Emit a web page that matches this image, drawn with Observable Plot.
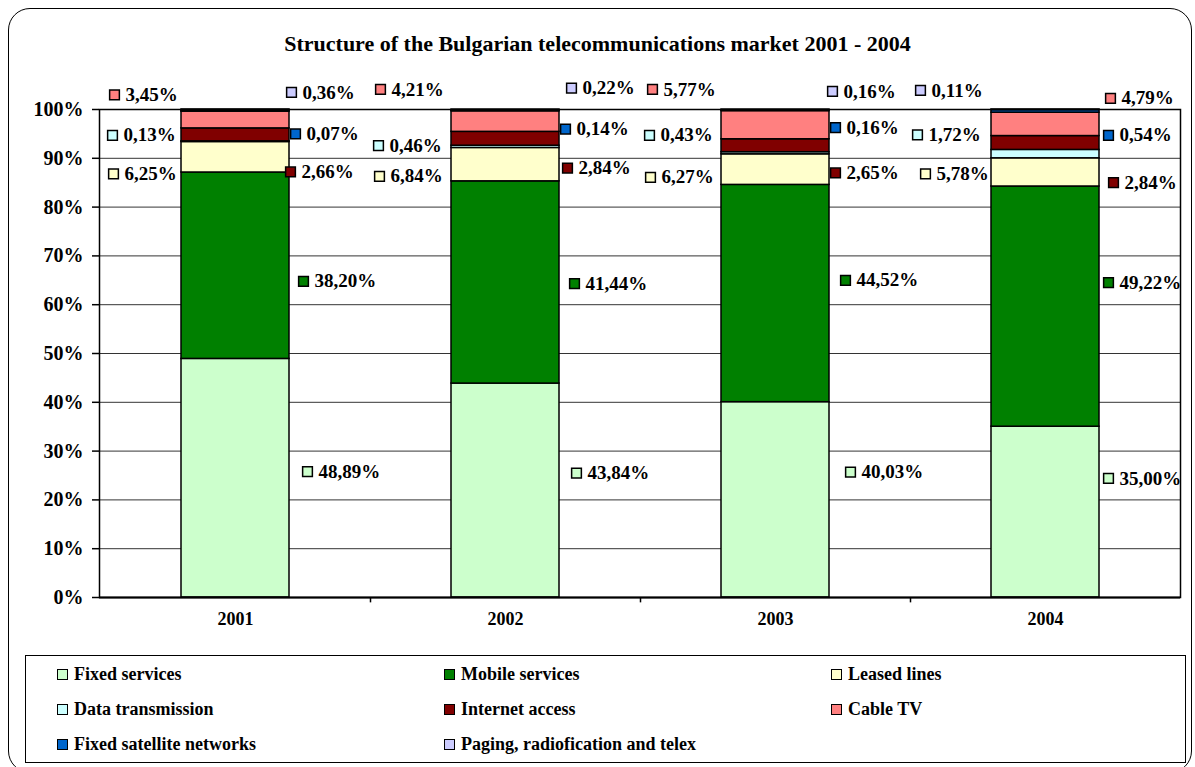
<!DOCTYPE html>
<html>
<head>
<meta charset="utf-8">
<script src="https://cdn.jsdelivr.net/npm/d3@7"></script>
<script src="https://cdn.jsdelivr.net/npm/@observablehq/plot@0.6"></script>
<style>
  html, body { margin: 0; padding: 0; background: #fff; overflow: hidden; }
  #wrap { position: relative; width: 1195px; height: 767px; overflow: hidden; font-family: "Liberation Serif", "Times New Roman", serif; }
  #border { position: absolute; left: 8px; top: 8px; width: 1184px; height: 765px; box-sizing: border-box; border: 1.5px solid #000; border-radius: 22px; }
  #title { position: absolute; left: 0; top: 32px; width: 1195px; text-align: center; font-size: 22px; line-height: 24px; font-weight: bold; z-index: 2; }
  #chart { position: absolute; left: 0; top: 0; }
  #legend { position: absolute; left: 25px; top: 655px; width: 1161px; height: 108px; box-sizing: border-box; border: 1.5px solid #000; }
  .li { position: absolute; height: 20px; display: flex; align-items: center; font-size: 18px; font-weight: bold; white-space: nowrap; }
  .sw { width: 11px; height: 11px; box-sizing: border-box; border: 1.5px solid #000; margin-right: 6px; }
</style>
</head>
<body>
<div id="wrap">
  <div id="border"></div>
  <div id="chart"></div>
  <div id="title">Structure of the Bulgarian telecommunications market 2001 - 2004</div>
  <div id="legend"></div>
</div>
<script>
// ---- data ----
const years = ["2001", "2002", "2003", "2004"];
const series = ["Fixed services", "Mobile services", "Leased lines", "Data transmission",
  "Internet access", "Cable TV", "Fixed satellite networks", "Paging, radiofication and telex"];
const colors = ["#CCFFCC", "#008000", "#FFFFCC", "#CCFFFF", "#800000", "#FF8080", "#0066CC", "#CCCCFF"];

const fixedServices = [48.89, 43.84, 40.03, 35.00];
const mobileServices = [38.20, 41.44, 44.52, 49.22];
const leasedLines = [6.25, 6.84, 6.27, 5.78];
const dataTransmission = [0.13, 0.46, 0.43, 1.72];
const internetAccess = [2.66, 2.84, 2.65, 2.84];
const cableTV = [3.45, 4.21, 5.77, 4.79];
const fixedSatellite = [0.07, 0.14, 0.16, 0.54];
const paging = [0.36, 0.22, 0.16, 0.11];

const yTicks = [0, 10, 20, 30, 40, 50, 60, 70, 80, 90, 100];

// ---- label layout (manual placement as in the original; level in % units, dx in px from bar centre) ----
const labelLevel = [
  [25.8, 25.5, 25.7, 24.4],
  [64.8, 64.3, 65.0, 64.5],
  [86.8, 86.3, 86.1, 86.8],
  [94.7, 92.6, 94.7, 94.8],
  [87.2, 88.0, 87.0, 85.0],
  [103.0, 104.1, 104.1, 102.3],
  [95.0, 96.0, 96.3, 94.7],
  [103.5, 104.4, 103.7, 103.9]
];
const labelDx = [
  [72, 71, 75, 63],
  [68, 69, 70, 63],
  [-122, -126, -125, -120],
  [-123, -127, -126, -128],
  [55, 62, 60, 68],
  [-121, -125, -123, 65],
  [60, 60, 60, 63],
  [56, 66, 57, -125]
];

// ---- build ----
const values = [fixedServices, mobileServices, leasedLines, dataTransmission, internetAccess, cableTV, fixedSatellite, paging];
const rows = years.flatMap((yr, i) => series.map((s, k) => ({year: yr, series: s, value: values[k][i]})));
const labels = years.flatMap((yr, i) => series.map((s, k) => ({
  year: yr, series: s, value: values[k][i], level: labelLevel[k][i], dx: labelDx[k][i]
})));
const fmt = v => v.toFixed(2).replace(".", ",") + "%";

const labelMarks = labels.flatMap(d => [
  Plot.dot([d], {x: "year", y: "level", dx: d.dx, symbol: "square", r: 5.5, fill: "series", stroke: "#000", strokeWidth: 1.5}),
  Plot.text([d], {x: "year", y: "level", dx: d.dx + 11, text: e => fmt(e.value), textAnchor: "start",
    fontSize: 19, fontWeight: "bold", fill: "#000"})
]);

const chart = Plot.plot({
  width: 1195,
  height: 640,
  marginTop: 109,
  marginBottom: 43,
  marginLeft: 99,
  marginRight: 15,
  x: {domain: years, paddingInner: 0.6, paddingOuter: 0.3, label: null},
  y: {domain: [0, 100], label: null},
  color: {domain: series, range: colors},
  style: {fontFamily: "Liberation Serif, Times New Roman, serif", fontWeight: "bold", background: "transparent", color: "#000", overflow: "visible"},
  marks: [
    Plot.gridY(yTicks.slice(1), {stroke: "#000", strokeOpacity: 0.8, strokeWidth: 1}),
    Plot.barY(rows, {x: "year", y: "value", fill: "series", stroke: "#000", strokeWidth: 1.5}),
    Plot.frame({stroke: "#000", strokeWidth: 1.5}),
    Plot.ruleY([0], {stroke: "#000", strokeWidth: 2}),
    Plot.ruleX(years.slice(1), {x: d => d, dx: -135, y1: 0, y2: -1.1, stroke: "#000", strokeWidth: 1.5}),
    Plot.axisY({ticks: yTicks, tickFormat: d => d + "%", tickSize: 7, tickPadding: 9, fontSize: 20, fontWeight: "bold", stroke: "#000", strokeWidth: 1.5, label: null}),
    Plot.axisX({tickSize: 0, tickPadding: 15, fontSize: 18, fontWeight: "bold", label: null}),
    ...labelMarks
  ]
});
document.getElementById("chart").appendChild(chart);

// ---- legend ----
const legend = document.getElementById("legend");
series.forEach((s, i) => {
  const col = i % 3, row = Math.floor(i / 3);
  const item = document.createElement("div");
  item.className = "li";
  item.style.left = (31 + col * 387) + "px";
  item.style.top = (8 + row * 35) + "px";
  const sw = document.createElement("span");
  sw.className = "sw";
  sw.style.background = colors[i];
  item.appendChild(sw);
  item.appendChild(document.createTextNode(s));
  legend.appendChild(item);
});
</script>
</body>
</html>
